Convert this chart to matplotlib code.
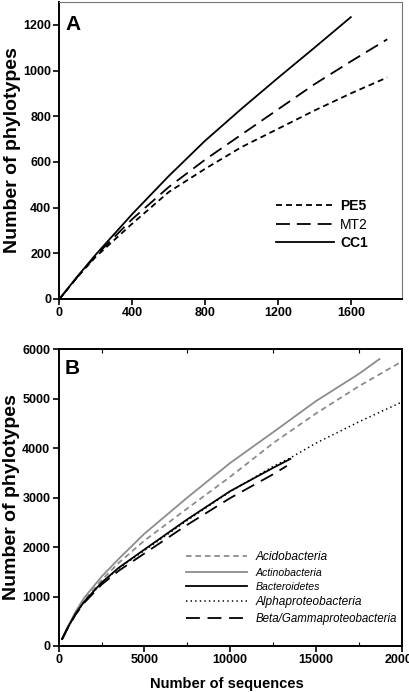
import matplotlib
matplotlib.use("Agg")
import matplotlib.pyplot as plt
from matplotlib import font_manager

names = {f.name for f in font_manager.fontManager.ttflist}
narrow = "Liberation Sans Narrow" if "Liberation Sans Narrow" in names else "Liberation Sans"
plt.rcParams["font.family"] = [narrow, "DejaVu Sans"]
plt.rcParams["lines.scale_dashes"] = False

# panel A: rarefaction per sample
a_x = [0, 100, 200, 400, 600, 800, 1000, 1200, 1400, 1600, 1800]
pe5 = [0, 97, 185, 330, 468, 570, 665, 745, 825, 900, 970]
mt2 = [0, 98, 190, 350, 490, 610, 720, 830, 940, 1040, 1137]
cc1 = [0, 100, 195, 372, 538, 693, 833, 968, 1100, 1234]

# panel B: rarefaction per phylum
b_x = [200, 500, 1000, 1500, 2500, 3500, 5000, 7500, 10000, 12500]
acido_x = b_x + [15000, 17500, 20000]
acido = [140, 355, 670, 930, 1330, 1680, 2130, 2780, 3420, 4100, 4700, 5250, 5750]
actino_x = b_x + [15000, 17500, 18700]
actino = [150, 370, 700, 980, 1400, 1760, 2270, 3000, 3700, 4320, 4950, 5500, 5800]
bacte_x = b_x + [13500]
bacte = [140, 350, 660, 900, 1280, 1580, 1950, 2560, 3130, 3600, 3780]
alpha_x = b_x + [13500, 15000, 17500, 20000]
alpha = [140, 345, 655, 890, 1270, 1570, 1930, 2540, 3120, 3630, 3800, 4100, 4530, 4930]
beta_x = b_x + [13300]
beta = [130, 340, 640, 875, 1240, 1520, 1870, 2450, 2990, 3470, 3640]

fig = plt.figure(figsize=(4.10, 6.92), dpi=100)
axA = fig.add_axes([0.145, 0.568, 0.835, 0.429])
axB = fig.add_axes([0.143, 0.0665, 0.837, 0.429])

lw = 1.3
axA.plot(a_x, pe5, color="black", lw=lw, dashes=(4.3, 2.9), label="PE5")
axA.plot(a_x, mt2, color="black", lw=lw, dashes=(10, 5), label="MT2")
axA.plot(a_x[:len(cc1)], cc1, color="black", lw=lw, label="CC1")
axA.set_xlim(0, 1880)
axA.set_ylim(0, 1300)
axA.set_xticks([0, 400, 800, 1200, 1600])
axA.set_yticks([0, 200, 400, 600, 800, 1000, 1200])
for s in ["top", "right"]:
    axA.spines[s].set_color("#777777")
    axA.spines[s].set_linewidth(0.8)
for s in ["left", "bottom"]:
    axA.spines[s].set_linewidth(1.4)
legA = axA.legend(loc="upper left", bbox_to_anchor=(0.615, 0.355), frameon=False,
                  handlelength=4.2, handletextpad=0.45, labelspacing=0.32,
                  fontsize=10, borderaxespad=0)
for t, w in zip(legA.get_texts(), ["bold", "normal", "bold"]):
    t.set_fontweight(w)
axA.text(0.04, 0.925, "A", transform=axA.transAxes, fontsize=15, fontweight="bold",
         family="Liberation Sans", ha="center", va="center")

gray = "#8c8c8c"
axB.plot(acido_x, acido, color=gray, lw=lw, dashes=(4, 2.8), label="Acidobacteria")
axB.plot(actino_x, actino, color=gray, lw=lw, label="Actinobacteria")
axB.plot(bacte_x, bacte, color="black", lw=lw, label="Bacteroidetes")
axB.plot(alpha_x, alpha, color="black", lw=1.1, dashes=(1, 2.3), label="Alphaproteobacteria")
axB.plot(beta_x, beta, color="black", lw=lw, dashes=(10, 5.5), label="Beta/Gammaproteobacteria")
axB.set_xlim(0, 20000)
axB.set_ylim(0, 6000)
axB.set_xticks([0, 5000, 10000, 15000, 20000])
axB.set_xticks([2500, 7500, 12500, 17500], minor=True)
axB.set_yticks([0, 1000, 2000, 3000, 4000, 5000, 6000])
axB.tick_params(axis="x", which="minor", direction="in", top=True, bottom=True, length=3, width=0.8)
for s in ["top", "right", "left", "bottom"]:
    axB.spines[s].set_linewidth(1.4)
legB = axB.legend(loc="upper left", bbox_to_anchor=(0.357, 0.335), frameon=False,
                  handlelength=5.3, handletextpad=0.75, labelspacing=0.38,
                  fontsize=8.3, borderaxespad=0)
for t, fs in zip(legB.get_texts(), [8.6, 7.6, 7.6, 8.6, 8.3]):
    t.set_fontstyle("italic")
    t.set_fontsize(fs)
axB.text(0.04, 0.935, "B", transform=axB.transAxes, fontsize=15, fontweight="bold",
         family="Liberation Sans", ha="center", va="center")
axB.set_xlabel("Number of sequences", fontsize=10.5, fontweight="bold")
axB.xaxis.set_label_coords(0.49, -0.105)

for ax in (axA, axB):
    ax.tick_params(axis="both", which="major", direction="out", length=4, width=1.2,
                   labelsize=9, pad=2)
    for lab in ax.get_xticklabels() + ax.get_yticklabels():
        lab.set_fontweight("bold")
    ax.set_ylabel("Number of phylotypes", fontsize=14, fontweight="bold",
                  family="Liberation Sans")
    ax.yaxis.set_label_coords(-0.113, 0.5)

fig.savefig("out.png", dpi=100)
